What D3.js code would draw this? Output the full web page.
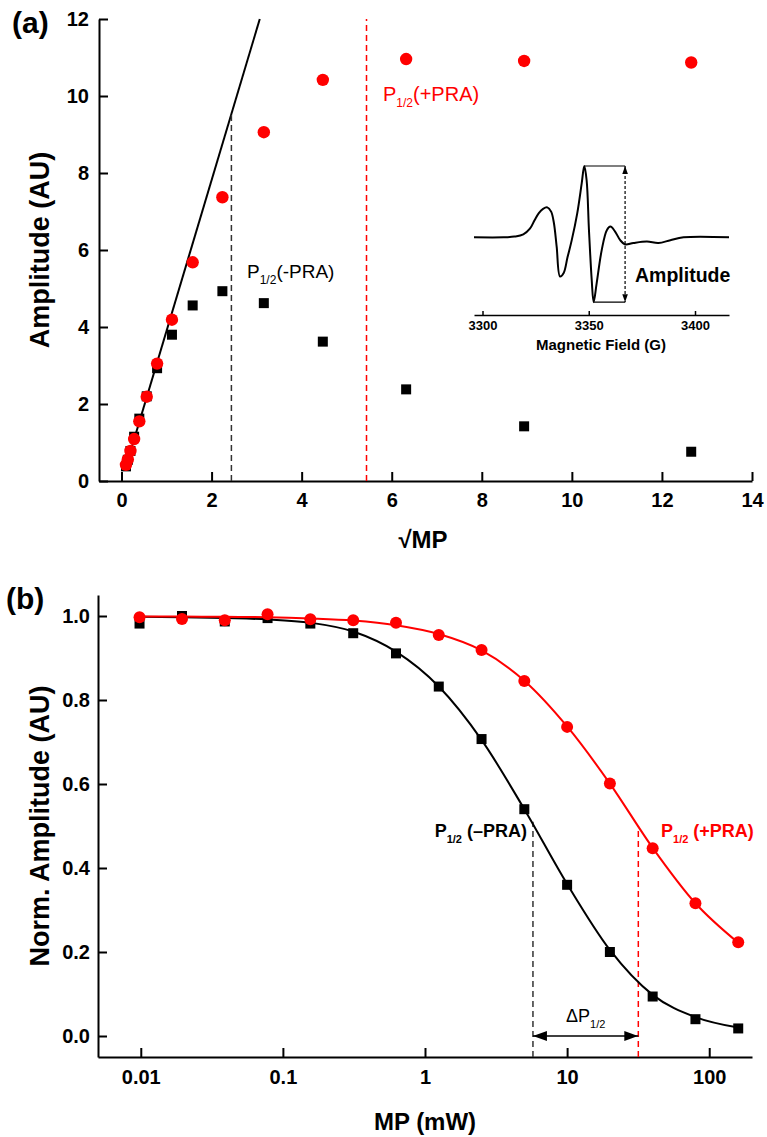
<!DOCTYPE html>
<html>
<head>
<meta charset="utf-8">
<style>
body { margin: 0; background: #fff; }
svg { font-family: "Liberation Sans", Arial, sans-serif; }
.axis .domain, .axis line { stroke: #000; stroke-width: 2px; }
.axis text { font-weight: bold; fill: #000; }
</style>
</head>
<body>
<svg width="767" height="1137" id="chart"></svg>
<script src="https://d3js.org/d3.v7.min.js"></script>
<script>
// microwave power (mW) and its square root
var mp = [0.0098, 0.0195, 0.039, 0.078, 0.156, 0.3125, 0.625, 1.25, 2.5, 5, 10, 20, 40, 80, 160];
var sqrtMp = [0.099, 0.14, 0.198, 0.28, 0.395, 0.56, 0.79, 1.12, 1.58, 2.24, 3.16, 4.47, 6.32, 8.94, 12.65];

// panel (a) raw amplitudes
var ampMinus = [0.38, 0.55, 0.78, 1.15, 1.62, 2.2, 2.93, 3.8, 4.56, 4.93, 4.62, 3.62, 2.38, 1.42, 0.76];
var ampPlus = [0.42, 0.56, 0.78, 1.09, 1.55, 2.19, 3.05, 4.19, 5.68, 7.37, 9.06, 10.42, 10.96, 10.91, 10.87];
var linFitX = [0.08, 3.07];
var linFitY = [0.3, 12];
var halfA = {minus: 2.44, plus: 5.44};

// panel (b) normalised amplitudes and fitted curves
var normMinus = [0.982, 1.0, 0.987, 0.995, 0.982, 0.959, 0.911, 0.832, 0.707, 0.54, 0.36, 0.2, 0.094, 0.04, 0.018];
var normPlus = [0.997, 0.993, 0.99, 1.004, 0.992, 0.99, 0.984, 0.955, 0.919, 0.845, 0.736, 0.601, 0.447, 0.316, 0.223];
var fitMinus = [0.998, 0.997, 0.995, 0.992, 0.984, 0.963, 0.915, 0.832, 0.705, 0.54, 0.362, 0.205, 0.098, 0.045, 0.02];
var fitPlus = [0.999, 0.999, 0.998, 0.997, 0.994, 0.989, 0.978, 0.957, 0.918, 0.846, 0.737, 0.601, 0.448, 0.316, 0.222];
var halfB = {minus: 5.75, plus: 31.7, minusY: 0.51, plusY: 0.5};

// inset EPR spectrum
var field = [3296, 3310, 3315, 3319.2, 3322.3, 3324.5, 3326.5, 3328.5, 3330.5, 3332.3, 3333.6, 3334.9, 3336.5, 3338.2, 3340,
             3342, 3344.6, 3346.7, 3347.9, 3349, 3350.1, 3351.4, 3352.3, 3353.7, 3356.1, 3358.5, 3360.2, 3362.4, 3364.8,
             3367.1, 3371, 3377.4, 3382.8, 3388.4, 3394.6, 3416];
var signal = [0, 0, 0.01, 0.04, 0.12, 0.24, 0.34, 0.4, 0.42, 0.36, 0.2, -0.13, -0.55, -0.5, -0.28,
              -0.04, 0.34, 0.76, 1.0, 0.8, 0.1, -0.6, -0.91, -0.65, -0.18, 0.1, 0.15, 0.08, -0.04,
              -0.1, -0.08, -0.06, -0.08, -0.04, 0, 0];
var fieldTicks = [3300, 3350, 3400];
var ampMark = {top: 1.0, bottom: -0.91, x: 3367.1, xTop: 3347.9, xBottom: 3352.3};

var svg = d3.select("#chart");
var RED = "#ff0000";

var defs = svg.append("defs");
function arrowMarker(id, size) {
  defs.append("marker").attr("id", id)
    .attr("viewBox", "0 0 10 10").attr("refX", 10).attr("refY", 5)
    .attr("markerWidth", size).attr("markerHeight", size)
    .attr("markerUnits", "userSpaceOnUse")
    .attr("orient", "auto-start-reverse")
    .append("path").attr("d", "M0,1.5L10,5L0,8.5Z").attr("fill", "#000");
}
arrowMarker("arr", 14);
arrowMarker("arrSmall", 8);

function styleAxis(g, size) {
  g.attr("class", "axis").attr("font-family", null).attr("font-size", null);
  g.selectAll("text").attr("font-size", size);
}

// ---------------- panel (a) ----------------
var xA = d3.scaleLinear().domain([-0.5, 14]).range([99, 752]);
var yA = d3.scaleLinear().domain([0, 12]).range([481, 19]);

svg.append("g").attr("transform", "translate(0,481)")
  .call(d3.axisBottom(xA).tickValues(d3.range(0, 15, 2)).tickSizeInner(-9).tickSizeOuter(0).tickPadding(12))
  .call(styleAxis, 20);
svg.append("g").attr("transform", "translate(99,0)")
  .call(d3.axisLeft(yA).tickValues(d3.range(0, 13, 2)).tickSizeInner(-9).tickSizeOuter(0).tickPadding(10))
  .call(styleAxis, 20);

svg.append("line")
  .attr("x1", xA(linFitX[0])).attr("y1", yA(linFitY[0]))
  .attr("x2", xA(linFitX[1])).attr("y2", yA(linFitY[1]))
  .attr("stroke", "#000").attr("stroke-width", 2);

var fitAt = function(x) { return linFitY[0] + (linFitY[1] - linFitY[0]) * (x - linFitX[0]) / (linFitX[1] - linFitX[0]); };
svg.append("line")
  .attr("x1", xA(halfA.minus)).attr("x2", xA(halfA.minus))
  .attr("y1", yA(0)).attr("y2", yA(fitAt(halfA.minus)))
  .attr("stroke", "#333").attr("stroke-width", 1.5).attr("stroke-dasharray", "6,4");
svg.append("line")
  .attr("x1", xA(halfA.plus)).attr("x2", xA(halfA.plus))
  .attr("y1", yA(0)).attr("y2", yA(12))
  .attr("stroke", RED).attr("stroke-width", 1.5).attr("stroke-dasharray", "6,4");

svg.append("g").selectAll("rect").data(d3.range(mp.length)).enter().append("rect")
  .attr("x", function(i) { return xA(sqrtMp[i]) - 5; })
  .attr("y", function(i) { return yA(ampMinus[i]) - 5; })
  .attr("width", 10).attr("height", 10).attr("fill", "#000");
svg.append("g").selectAll("circle").data(d3.range(mp.length)).enter().append("circle")
  .attr("cx", function(i) { return xA(sqrtMp[i]); })
  .attr("cy", function(i) { return yA(ampPlus[i]); })
  .attr("r", 6.2).attr("fill", RED);

function halfLabel(sel, x, y, size, subSize, tail, color, weight, anchor) {
  var t = svg.append("text").attr("x", x).attr("y", y)
    .attr("font-size", size).attr("fill", color).attr("font-weight", weight)
    .attr("text-anchor", anchor || "start");
  t.append("tspan").text(sel);
  t.append("tspan").attr("font-size", subSize).attr("dy", subSize * 0.5).text("1/2");
  t.append("tspan").attr("dy", -subSize * 0.5).text(tail);
  return t;
}
halfLabel("P", 247, 278, 19, 12, "(-PRA)", "#000", "normal");
halfLabel("P", 383, 101, 20, 12, "(+PRA)", RED, "normal");

svg.append("text").attr("transform", "translate(49,250) rotate(-90)")
  .attr("text-anchor", "middle").attr("font-size", 27).attr("font-weight", "bold")
  .text("Amplitude (AU)");
svg.append("text").attr("x", 423).attr("y", 548)
  .attr("text-anchor", "middle").attr("font-size", 24).attr("font-weight", "bold")
  .text("\u221AMP");
svg.append("text").attr("x", 12).attr("y", 33)
  .attr("font-size", 30).attr("font-weight", "bold").text("(a)");

// ---------------- inset ----------------
var xI = d3.scaleLinear().domain([3296, 3416]).range([474, 729]);
var yI = d3.scaleLinear().domain([-1, 1]).range([308.6, 166]);

svg.append("g").attr("transform", "translate(0,315)")
  .call(d3.axisBottom(xI).tickValues(fieldTicks).tickFormat(d3.format("d"))
    .tickSizeInner(-4).tickSizeOuter(0).tickPadding(6))
  .call(styleAxis, 13)
  .call(function(g) { g.selectAll(".domain, line").style("stroke-width", "1.5px"); });

svg.append("path")
  .datum(d3.range(field.length))
  .attr("fill", "none").attr("stroke", "#000").attr("stroke-width", 2)
  .attr("d", d3.line()
    .x(function(i) { return xI(field[i]); })
    .y(function(i) { return yI(signal[i]); })
    .curve(d3.curveCatmullRom.alpha(0.5)));

svg.append("line")
  .attr("x1", xI(ampMark.xTop)).attr("x2", xI(ampMark.x))
  .attr("y1", yI(ampMark.top)).attr("y2", yI(ampMark.top))
  .attr("stroke", "#000").attr("stroke-width", 1.2);
svg.append("line")
  .attr("x1", xI(ampMark.xBottom)).attr("x2", xI(ampMark.x))
  .attr("y1", yI(ampMark.bottom)).attr("y2", yI(ampMark.bottom))
  .attr("stroke", "#000").attr("stroke-width", 1.2);
svg.append("line")
  .attr("x1", xI(ampMark.x)).attr("x2", xI(ampMark.x))
  .attr("y1", yI(ampMark.top)).attr("y2", yI(ampMark.bottom))
  .attr("stroke", "#000").attr("stroke-width", 1.2).attr("stroke-dasharray", "3,2")
  .attr("marker-start", "url(#arrSmall)").attr("marker-end", "url(#arrSmall)");

svg.append("text").attr("x", 635).attr("y", 282)
  .attr("font-size", 19.5).attr("font-weight", "bold").text("Amplitude");
svg.append("text").attr("x", 601).attr("y", 350)
  .attr("text-anchor", "middle").attr("font-size", 15).attr("font-weight", "bold")
  .text("Magnetic Field (G)");

// ---------------- panel (b) ----------------
var xB = d3.scaleLog().domain([0.005, 200]).range([98, 752]);
var yB = d3.scaleLinear().domain([-0.05, 1.05]).range([1057, 595]);

svg.append("g").attr("transform", "translate(0,1057)")
  .call(d3.axisBottom(xB).tickValues([0.01, 0.1, 1, 10, 100]).tickFormat(d3.format("~g"))
    .tickSizeInner(-9).tickSizeOuter(0).tickPadding(13))
  .call(styleAxis, 20);
svg.append("g").attr("transform", "translate(98,0)")
  .call(d3.axisLeft(yB).tickValues(d3.range(0, 1.01, 0.2)).tickFormat(d3.format(".1f"))
    .tickSizeInner(-9).tickSizeOuter(0).tickPadding(8))
  .call(styleAxis, 20);

svg.append("line")
  .attr("x1", xB(halfB.minus)).attr("x2", xB(halfB.minus))
  .attr("y1", yB(-0.05)).attr("y2", yB(halfB.minusY))
  .attr("stroke", "#333").attr("stroke-width", 1.5).attr("stroke-dasharray", "6,4");
svg.append("line")
  .attr("x1", xB(halfB.plus)).attr("x2", xB(halfB.plus))
  .attr("y1", yB(-0.05)).attr("y2", yB(halfB.plusY))
  .attr("stroke", RED).attr("stroke-width", 1.5).attr("stroke-dasharray", "6,4");

var curveB = function(vals) {
  return d3.line()
    .x(function(i) { return xB(mp[i]); })
    .y(function(i) { return yB(vals[i]); })
    .curve(d3.curveMonotoneX)(d3.range(mp.length));
};
svg.append("path").attr("d", curveB(fitMinus))
  .attr("fill", "none").attr("stroke", "#000").attr("stroke-width", 2);
svg.append("g").selectAll("rect").data(d3.range(mp.length)).enter().append("rect")
  .attr("x", function(i) { return xB(mp[i]) - 5; })
  .attr("y", function(i) { return yB(normMinus[i]) - 5; })
  .attr("width", 10).attr("height", 10).attr("fill", "#000");
svg.append("path").attr("d", curveB(fitPlus))
  .attr("fill", "none").attr("stroke", RED).attr("stroke-width", 2);
svg.append("g").selectAll("circle").data(d3.range(mp.length)).enter().append("circle")
  .attr("cx", function(i) { return xB(mp[i]); })
  .attr("cy", function(i) { return yB(normPlus[i]); })
  .attr("r", 6).attr("fill", RED);

// delta P1/2 arrow
svg.append("line")
  .attr("x1", xB(halfB.minus)).attr("x2", xB(halfB.plus))
  .attr("y1", yB(0)).attr("y2", yB(0))
  .attr("stroke", "#000").attr("stroke-width", 1.5)
  .attr("marker-start", "url(#arr)").attr("marker-end", "url(#arr)");
halfLabel("\u0394P", 566, 1022, 18, 11, "", "#000", "normal");

halfLabel("P", 527, 837, 18, 11, " (\u2013PRA)", "#000", "bold", "end");
halfLabel("P", 661, 837, 18, 11, " (+PRA)", RED, "bold");

svg.append("text").attr("transform", "translate(49,826) rotate(-90)")
  .attr("text-anchor", "middle").attr("font-size", 27).attr("font-weight", "bold")
  .text("Norm. Amplitude (AU)");
svg.append("text").attr("x", 425).attr("y", 1130)
  .attr("text-anchor", "middle").attr("font-size", 24).attr("font-weight", "bold")
  .text("MP (mW)");
svg.append("text").attr("x", 6).attr("y", 609)
  .attr("font-size", 30).attr("font-weight", "bold").text("(b)");
</script>
</body>
</html>
